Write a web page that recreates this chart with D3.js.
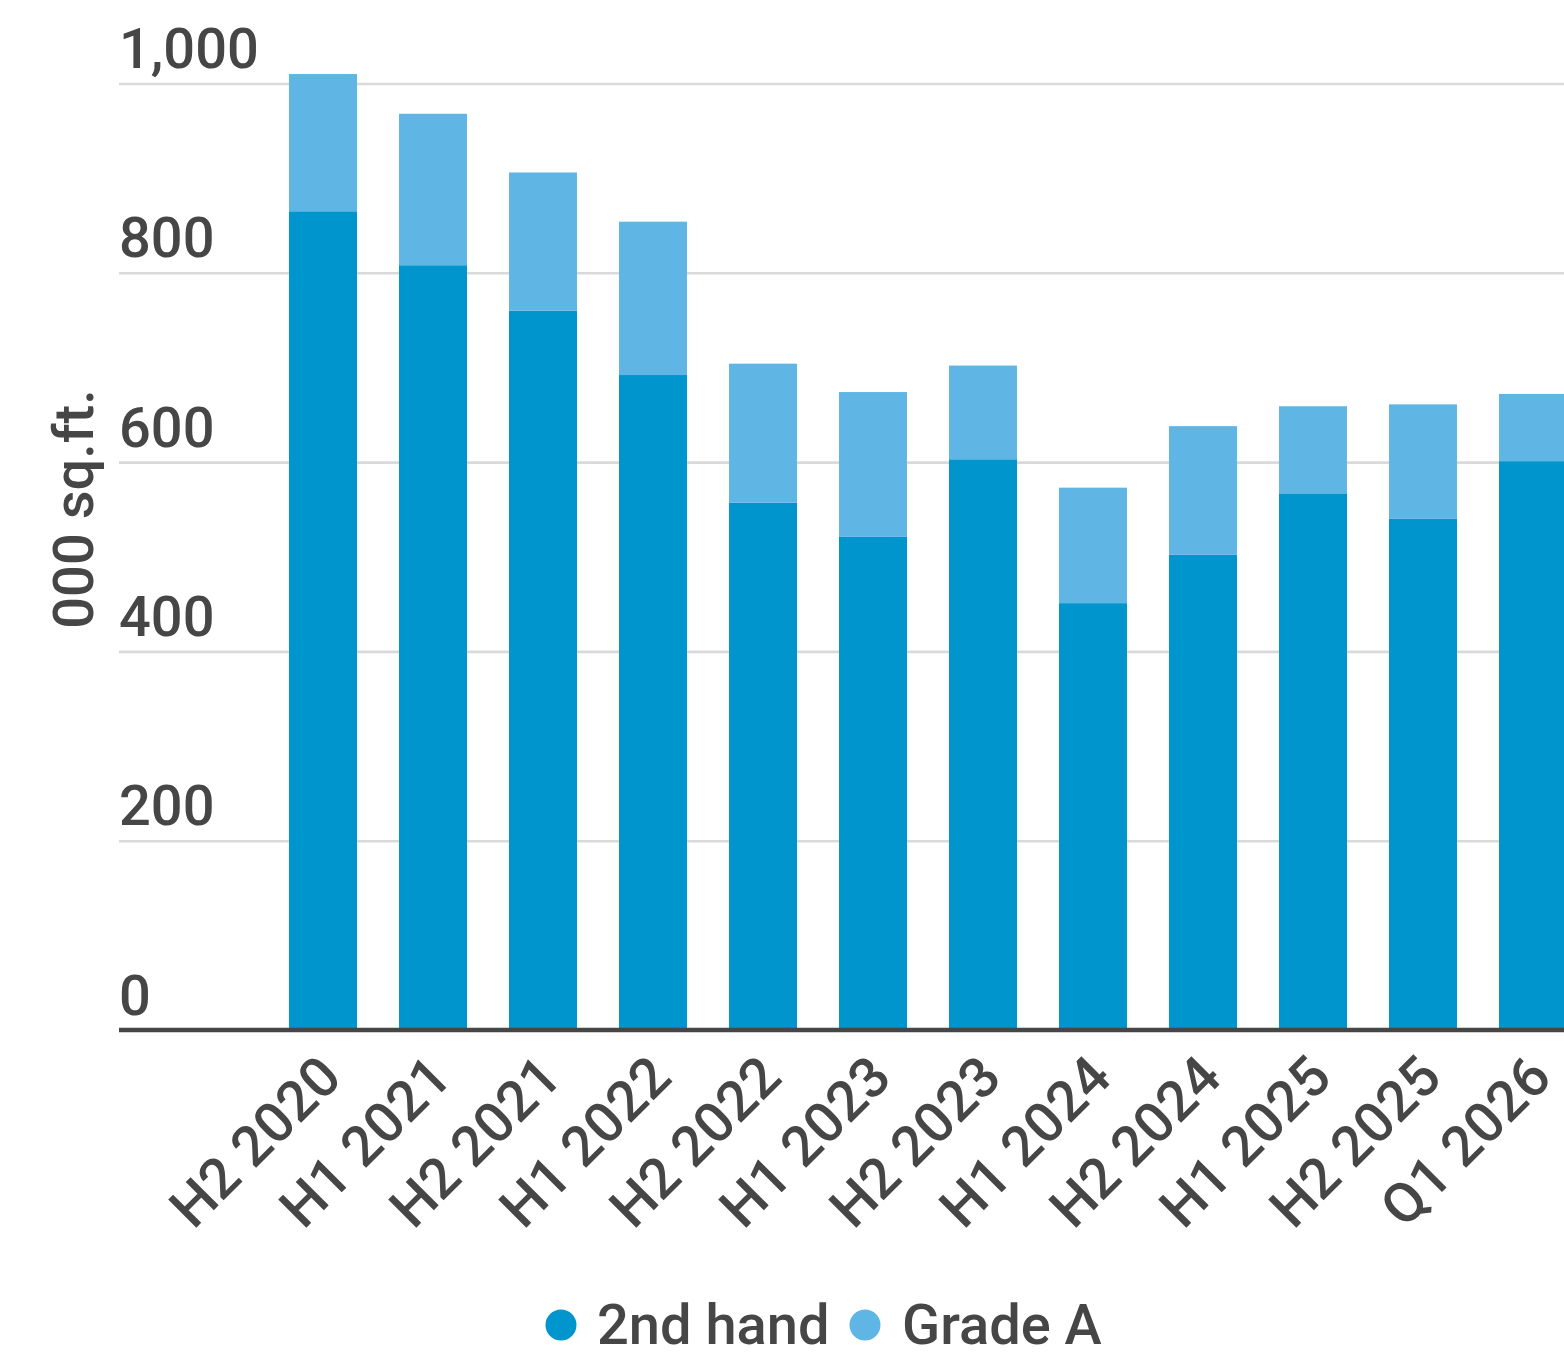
<!DOCTYPE html>
<html>
<head>
<meta charset="utf-8">
<script src="https://cdn.jsdelivr.net/npm/d3@7"></script>
<style>
    body { margin: 0; background: #fff; }
    svg { display: block; font-family: Roboto, "Noto Sans", sans-serif; font-weight: 500; }
</style>
</head>
<body>
<div id="chart"></div>
<script>
// periods on the x axis
const periods = ["H2 2020", "H1 2021", "H2 2021", "H1 2022", "H2 2022", "H1 2023",
    "H2 2023", "H1 2024", "H2 2024", "H1 2025", "H2 2025", "Q1 2026"];

// 000 sq.ft.
const secondHand = [865, 808, 760, 692, 557, 521, 603, 451, 502, 567, 540, 601];
const gradeA     = [145, 160, 146, 162, 147, 153,  99, 122, 136,  92, 121,  71];

const yTicks = [0, 200, 400, 600, 800, 1000];

const seriesNames = ["2nd hand", "Grade A"];
const seriesColors = ["#0095cc", "#5fb6e5"];

const textColor = "#464646";

let width = 1564, height = 1354;

let svg = d3.select("#chart").append("svg")
    .attr("width", width)
    .attr("height", height);

let rows = periods.map((p, i) => ({period: p, "2nd hand": secondHand[i], "Grade A": gradeA[i]}));
let stacked = d3.stack().keys(seriesNames)(rows);

// scales
let x = d3.scaleBand()
    .domain(periods)
    .range([268, 1588])
    .paddingInner(0.382)
    .paddingOuter(0.191);

let y = d3.scaleLinear()
    .domain([0, 1000])
    .range([1030, 83.5]);

let color = d3.scaleOrdinal().domain(seriesNames).range(seriesColors);

// gridlines + y labels
let yAxis = svg.append("g")
    .attr("class", "y-axis")
    .attr("transform", "translate(119,0)")
    .call(d3.axisLeft(y).tickValues(yTicks).tickSize(-(width - 119)).tickFormat(d3.format(",")));

yAxis.select(".domain").remove();
yAxis.selectAll(".tick line")
    .attr("stroke", "#d9d9d9")
    .attr("stroke-width", 2.6);
yAxis.selectAll(".tick text")
    .attr("x", 0)
    .attr("dy", -16)
    .attr("text-anchor", "start")
    .style("font-size", "56px")
    .style("font-family", "Roboto")
    .style("font-weight", 500)
    .attr("fill", textColor);

// bars
svg.append("g")
    .selectAll("g")
    .data(stacked)
    .enter()
    .append("g")
    .attr("fill", d => color(d.key))
    .selectAll("rect")
    .data(d => d)
    .enter()
    .append("rect")
    .attr("x", d => x(d.data.period))
    .attr("y", d => y(d[1]))
    .attr("width", x.bandwidth())
    .attr("height", d => y(d[0]) - y(d[1]));

// baseline
svg.append("line")
    .attr("x1", 119)
    .attr("x2", width)
    .attr("y1", y(0))
    .attr("y2", y(0))
    .attr("stroke", textColor)
    .attr("stroke-width", 4.5);

// x labels
let xAxis = svg.append("g")
    .attr("class", "x-axis")
    .attr("transform", "translate(0," + y(0) + ")")
    .call(d3.axisBottom(x).tickSize(0));

xAxis.select(".domain").remove();
xAxis.selectAll(".tick text")
    .attr("y", 0)
    .attr("dy", 0)
    .attr("text-anchor", "end")
    .attr("transform", "translate(21,50) rotate(-45)")
    .style("font-size", "56px")
    .style("font-family", "Roboto")
    .style("font-weight", 500)
    .attr("fill", textColor);

// axis title
svg.append("text")
    .attr("transform", "translate(93,509) rotate(-90)")
    .attr("text-anchor", "middle")
    .style("font-size", "56px")
    .attr("fill", textColor)
    .text("000 sq.ft.");

// legend
let legendItems = [
    {name: seriesNames[0], cx: 561, tx: 597},
    {name: seriesNames[1], cx: 865, tx: 902}
];

let legend = svg.append("g").attr("class", "legend");

legend.selectAll("circle")
    .data(legendItems)
    .enter()
    .append("circle")
    .attr("cx", d => d.cx)
    .attr("cy", 1325)
    .attr("r", 15.5)
    .attr("fill", d => color(d.name));

legend.selectAll("text")
    .data(legendItems)
    .enter()
    .append("text")
    .attr("x", d => d.tx)
    .attr("y", 1344)
    .style("font-size", "56px")
    .attr("fill", textColor)
    .text(d => d.name);
</script>
</body>
</html>
